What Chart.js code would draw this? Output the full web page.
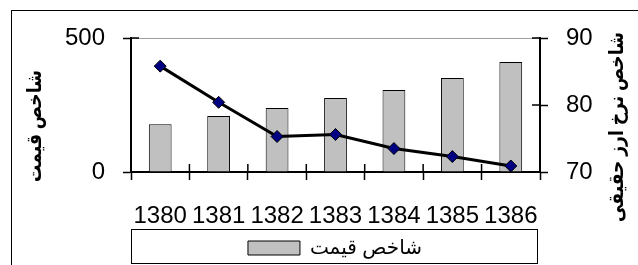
<!DOCTYPE html>
<html>
<head>
<meta charset="utf-8">
<script src="https://cdn.jsdelivr.net/npm/chart.js@4"></script>
<style>
  body { margin: 0; background: #fff; }
  #frame { position: absolute; left: 11px; top: 10px; width: 700px; height: 300px; border: 1px solid #000; }
  #wrap { position: absolute; left: 0; top: 0; width: 638px; height: 265px; }
</style>
</head>
<body>
<div id="frame"></div>
<div id="wrap"><canvas id="chart" width="638" height="265"></canvas></div>
<script>
const years = ["1380", "1381", "1382", "1383", "1384", "1385", "1386"];
const priceIndex = [178, 209, 239, 276, 306, 351, 410];
const realRate = [85.8, 80.4, 75.3, 75.6, 73.5, 72.3, 70.9];
const priceTicks = [0, 500];
const rateTicks = [70, 80, 90];

const priceLabel = "شاخص قیمت";
const rateLabel = "شاخص نرخ ارز حقیقی";

const tickFont = { family: "'Liberation Sans', Arial, sans-serif", size: 24 };
const arabicFont = "'Liberation Sans', 'DejaVu Sans', sans-serif";

// rotated title squeezed to a given length
function sideTitle(ctx, text, x, y, len) {
  ctx.save();
  ctx.fillStyle = "#000";
  ctx.font = "bold 20px " + arabicFont;
  ctx.textAlign = "center";
  ctx.textBaseline = "middle";
  ctx.translate(x, y);
  ctx.rotate(-Math.PI / 2);
  const w = ctx.measureText(text).width;
  ctx.scale(len / w, 1);
  ctx.fillText(text, 0, 0);
  ctx.restore();
}

// ticks that cross the axis lines + titles + legend frame
const extras = {
  id: "extras",
  afterDraw(chart) {
    const ctx = chart.ctx;
    const a = chart.chartArea;
    const len = 8;
    ctx.save();
    ctx.strokeStyle = "#000";
    ctx.lineWidth = 1.5;
    ctx.beginPath();
    const y = chart.scales.y;
    y.ticks.forEach((t, i) => {
      const p = y.getPixelForTick(i);
      ctx.moveTo(a.left, p);
      ctx.lineTo(a.left + len, p);
    });
    const y1 = chart.scales.y1;
    y1.ticks.forEach((t, i) => {
      const p = y1.getPixelForTick(i);
      ctx.moveTo(a.right - len, p);
      ctx.lineTo(a.right, p);
    });
    const n = years.length;
    for (let i = 0; i <= n; i++) {
      const p = a.left + (a.right - a.left) * i / n;
      ctx.moveTo(p, a.bottom - len);
      ctx.lineTo(p, a.bottom);
    }
    ctx.stroke();

    // legend frame
    ctx.lineWidth = 1;
    ctx.strokeRect(131.5, 229.5, 406, 34);
    ctx.restore();

    sideTitle(ctx, priceLabel, 35, 126, 112);
    sideTitle(ctx, rateLabel, 617, 127, 190);
  }
};

new Chart(document.getElementById("chart"), {
  data: {
    labels: years,
    datasets: [
      {
        type: "line",
        label: rateLabel,
        data: realRate,
        yAxisID: "y1",
        borderColor: "#000",
        borderWidth: 3,
        tension: 0,
        pointStyle: "rectRot",
        pointRadius: 6,
        pointBackgroundColor: "#000080",
        pointBorderColor: "#000",
        pointBorderWidth: 1,
      },
      {
        type: "bar",
        label: priceLabel,
        data: priceIndex,
        yAxisID: "y",
        backgroundColor: "#c0c0c0",
        borderColor: "#000",
        borderWidth: 1,
        categoryPercentage: 1,
        barPercentage: 0.39,
      },
    ],
  },
  options: {
    responsive: false,
    animation: false,
    layout: { padding: { left: 32, top: 38, right: 0, bottom: -3 } },
    plugins: {
      tooltip: { enabled: false },
      legend: {
        position: "bottom",
        labels: {
          filter: (item) => item.datasetIndex === 1,
          boxWidth: 52,
          boxHeight: 14,
          padding: 6,
          color: "#000",
          font: { family: arabicFont, size: 20 },
        },
      },
    },
    scales: {
      x: {
        offset: true,
        grid: { offset: true, drawOnChartArea: false, tickLength: 8, tickColor: "#000", tickWidth: 1.5 },
        border: { color: "#000", width: 2 },
        ticks: { color: "#000", font: tickFont, padding: 22, maxRotation: 0, autoSkip: false },
        afterFit: (s) => { s.height = 60; },
      },
      y: {
        position: "left",
        min: 0,
        max: 500,
        afterBuildTicks: (s) => { s.ticks = priceTicks.map((v) => ({ value: v })); },
        grid: {
          color: (c) => (c.tick && c.tick.value === 500 ? "#a0a0a0" : "rgba(0,0,0,0)"),
          tickColor: "#000",
          tickLength: 8,
          tickWidth: 1.5,
        },
        border: { color: "#000", width: 2 },
        ticks: { color: "#000", font: tickFont, padding: 18 },
        afterFit: (s) => { s.width = 99; },
      },
      y1: {
        position: "right",
        min: 70,
        max: 90,
        afterBuildTicks: (s) => { s.ticks = rateTicks.map((v) => ({ value: v })); },
        grid: { drawOnChartArea: false, tickColor: "#000", tickLength: 8, tickWidth: 1.5 },
        border: { color: "#000", width: 2 },
        ticks: { color: "#000", font: tickFont, padding: 18 },
        afterFit: (s) => { s.width = 98; },
      },
    },
  },
  plugins: [extras],
});
</script>
</body>
</html>
